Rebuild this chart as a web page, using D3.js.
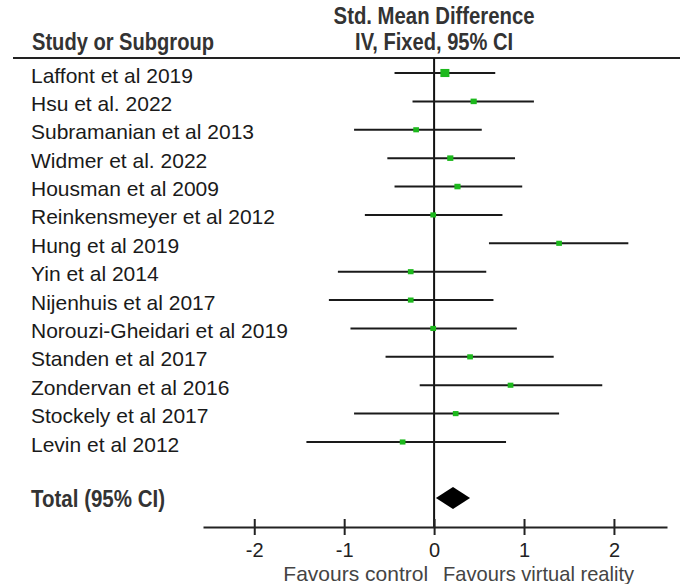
<!DOCTYPE html>
<html>
<head>
<meta charset="utf-8">
<script src="https://cdn.jsdelivr.net/npm/d3@7"></script>
<style>
  body { margin: 0; background: #fff; }
  svg { display: block; }
</style>
</head>
<body>
<div id="chart"></div>
<script>
// Forest plot: standardised mean difference per study

// Study labels, top to bottom
const studies = [
    "Laffont et al 2019", "Hsu et al. 2022", "Subramanian et al 2013", "Widmer et al. 2022",
    "Housman et al 2009", "Reinkensmeyer et al 2012", "Hung et al 2019", "Yin et al 2014",
    "Nijenhuis et al 2017", "Norouzi-Gheidari et al 2019", "Standen et al 2017",
    "Zondervan et al 2016", "Stockely et al 2017", "Levin et al 2012"
];
// Point estimates and 95% CI bounds
const smd   = [0.12, 0.44, -0.20, 0.18, 0.26, -0.01, 1.39, -0.26, -0.26, -0.01, 0.40, 0.85, 0.24, -0.35];
const lower = [-0.44, -0.24, -0.89, -0.52, -0.44, -0.77, 0.61, -1.07, -1.17, -0.93, -0.54, -0.16, -0.89, -1.42];
const upper = [0.68, 1.11, 0.53, 0.90, 0.98, 0.76, 2.16, 0.58, 0.66, 0.92, 1.33, 1.87, 1.39, 0.80];
// Relative weights (marker size)
const weights = [15, 7, 6, 7, 7, 6, 6, 6, 6, 6, 6, 6, 6, 6];
// Pooled estimate
const total = { est: 0.21, lo: 0.02, hi: 0.40 };
const tickValues = [-2, -1, 0, 1, 2];

const width = 680;
const height = 584;

const svg = d3.select("#chart")
    .append("svg")
    .attr("width", width)
    .attr("height", height);

const x = d3.scaleLinear()
    .domain([-2.57, 2.59])
    .range([203, 667]);

const y = d3.scaleLinear()
    .domain([0, studies.length - 1])
    .range([73, 442]);

const totalY = 498;
const axisY = 527;

const size = d3.scaleSqrt()
    .domain([0, d3.max(weights)])
    .range([0, 9]);

const bodyFont = "'Liberation Sans', Arial, sans-serif";

// Bold narrow-looking headers: no narrow font installed, so squeeze the glyphs
function header(xPos, yPos, anchor, len, label) {
    svg.append("text")
        .attr("x", xPos)
        .attr("y", yPos)
        .attr("text-anchor", anchor)
        .attr("textLength", len)
        .attr("lengthAdjust", "spacingAndGlyphs")
        .style("font-family", bodyFont)
        .style("font-weight", "bold")
        .style("font-size", "23px")
        .style("fill", "#333")
        .text(label);
}

header(x(0), 24, "middle", 201, "Std. Mean Difference");
header(x(0), 50, "middle", 158, "IV, Fixed, 95% CI");
header(32, 50, "start", 182, "Study or Subgroup");

// Header rule
svg.append("line")
    .attr("x1", 13).attr("x2", width)
    .attr("y1", 58).attr("y2", 58)
    .attr("stroke", "#222")
    .attr("stroke-width", 2);

// Line of no effect
svg.append("line")
    .attr("x1", x(0)).attr("x2", x(0))
    .attr("y1", 58).attr("y2", axisY)
    .attr("stroke", "#111")
    .attr("stroke-width", 2);

// Study labels
svg.selectAll("text.study")
    .data(studies)
    .join("text")
    .attr("class", "study")
    .attr("x", 31)
    .attr("y", (d, i) => y(i) + 2)
    .attr("dy", "0.36em")
    .style("font-family", bodyFont)
    .style("font-size", "21px")
    .style("fill", "#1a1a1a")
    .text(d => d);

// Confidence intervals
svg.selectAll("line.ci")
    .data(studies)
    .join("line")
    .attr("class", "ci")
    .attr("x1", (d, i) => x(lower[i]))
    .attr("x2", (d, i) => x(upper[i]))
    .attr("y1", (d, i) => y(i))
    .attr("y2", (d, i) => y(i))
    .attr("stroke", "#1a1a1a")
    .attr("stroke-width", 2);

// Point estimates
svg.selectAll("rect.est")
    .data(studies)
    .join("rect")
    .attr("class", "est")
    .attr("x", (d, i) => x(smd[i]) - size(weights[i]) / 2)
    .attr("y", (d, i) => y(i) - size(weights[i]) * 0.45)
    .attr("width", (d, i) => size(weights[i]))
    .attr("height", (d, i) => size(weights[i]) * 0.9)
    .attr("fill", "#1cb81c");

// Total
header(31, 507, "start", 134, "Total (95% CI)");

svg.append("path")
    .attr("d", d3.line()([
        [x(total.lo), totalY],
        [x(total.est), totalY - 11],
        [x(total.hi), totalY],
        [x(total.est), totalY + 11]
    ]) + "Z")
    .attr("fill", "#000");

// Axis
const axis = svg.append("g")
    .attr("transform", `translate(0,${axisY})`)
    .call(d3.axisBottom(x).tickValues(tickValues).tickSize(0).tickPadding(16)
        .tickFormat(d => d));

axis.select(".domain")
    .attr("stroke", "#222")
    .attr("stroke-width", 2);

axis.selectAll(".tick line")
    .attr("y1", -8)
    .attr("y2", 8)
    .attr("stroke", "#222")
    .attr("stroke-width", 2);

axis.selectAll(".tick text")
    .style("font-family", bodyFont)
    .style("font-size", "20px")
    .style("fill", "#222");

svg.append("text")
    .attr("x", x(0) - 6)
    .attr("y", 581)
    .attr("text-anchor", "end")
    .style("font-family", bodyFont)
    .style("font-size", "21px")
    .style("fill", "#444")
    .text("Favours control");

svg.append("text")
    .attr("x", x(0) + 9)
    .attr("y", 581)
    .attr("textLength", 191)
    .attr("lengthAdjust", "spacingAndGlyphs")
    .style("font-family", bodyFont)
    .style("font-size", "21px")
    .style("fill", "#444")
    .text("Favours virtual reality");
</script>
</body>
</html>
